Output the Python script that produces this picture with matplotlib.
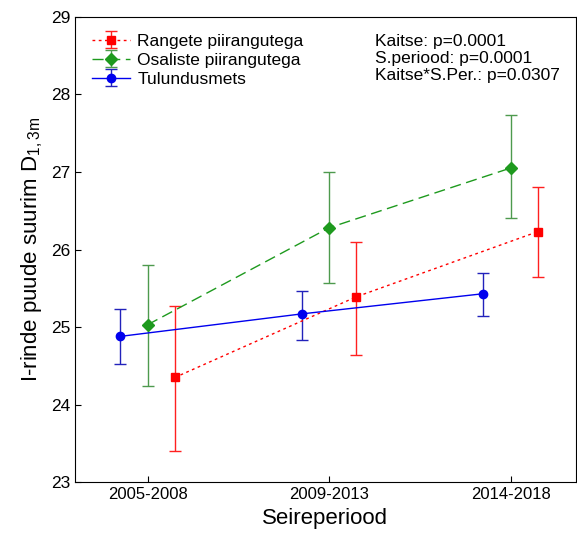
import numpy as np
import matplotlib
matplotlib.use("Agg")
import matplotlib.pyplot as plt

plt.rcParams['font.family'] = ['Liberation Sans', 'DejaVu Sans']

# === Data ===
periods = ["2005-2008", "2009-2013", "2014-2018"]

rangete_mean = [24.35, 25.39, 26.23]
rangete_low = [23.40, 24.64, 25.64]
rangete_high = [25.27, 26.10, 26.81]

osaliste_mean = [25.03, 26.28, 27.05]
osaliste_low = [24.24, 25.57, 26.40]
osaliste_high = [25.80, 27.00, 27.73]

tulundus_mean = [24.88, 25.17, 25.43]
tulundus_low = [24.52, 24.83, 25.14]
tulundus_high = [25.23, 25.46, 25.70]

stats_text = ["Kaitse: p=0.0001", "S.periood: p=0.0001", "Kaitse*S.Per.: p=0.0307"]

x = np.arange(len(periods))
offset = 0.15


def yerr(mean, low, high):
    mean = np.array(mean)
    return [mean - np.array(low), np.array(high) - mean]


# === Plotting ===
fig = plt.figure(figsize=(5.77, 5.43), dpi=100)
ax = fig.add_axes([0.13, 0.112, 0.868, 0.857])

ax.errorbar(x + offset, rangete_mean, yerr=yerr(rangete_mean, rangete_low, rangete_high),
            color='#ff0000', ecolor='#ff2020', linestyle=(0, (2, 2.5)), linewidth=1,
            marker='s', markersize=6, capsize=4, elinewidth=1, label='Rangete piirangutega')
ax.errorbar(x, osaliste_mean, yerr=yerr(osaliste_mean, osaliste_low, osaliste_high),
            color='#1e9a1e', ecolor='#4e9a4e', linestyle=(0, (8, 4)), linewidth=1,
            marker='D', markersize=6, capsize=4, elinewidth=1, label='Osaliste piirangutega')
ax.errorbar(x - offset, tulundus_mean, yerr=yerr(tulundus_mean, tulundus_low, tulundus_high),
            color='#0000ee', ecolor='#2222bb', linestyle='-', linewidth=1,
            marker='o', markersize=6, capsize=4, elinewidth=1, label='Tulundusmets')

ax.set_xlim(-0.40, 2.36)
ax.set_ylim(23, 29)
ax.set_xticks(x)
ax.set_xticklabels(periods, fontsize=12)
ax.set_yticks(np.arange(23, 30, 1))
ax.tick_params(axis='y', labelsize=12.5, direction='in', length=4)
ax.tick_params(axis='x', direction='in', length=4)

ax.set_xlabel("Seireperiood", fontsize=16)
ax.set_ylabel(r"I-rinde puude suurim D$_{\mathregular{1,3m}}$", fontsize=16)

ax.legend(loc='upper left', bbox_to_anchor=(0.01, 0.99), frameon=False, fontsize=12.5,
          handlelength=2.2, handletextpad=0.4, labelspacing=0.22, borderaxespad=0.3)

ax.text(0.599, 0.963, "\n".join(stats_text), transform=ax.transAxes, fontsize=12.5,
        va='top', ha='left', linespacing=1.15)

fig.savefig("out.png", dpi=100)
